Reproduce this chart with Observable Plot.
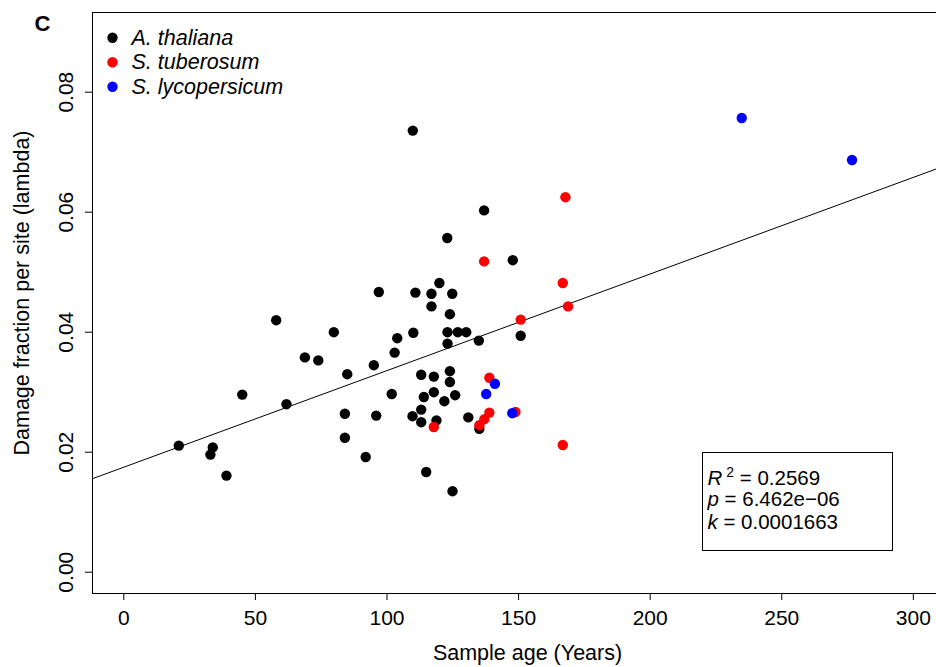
<!DOCTYPE html>
<html><head><meta charset="utf-8">
<script src="https://cdn.jsdelivr.net/npm/d3@7"></script>
<script src="https://cdn.jsdelivr.net/npm/@observablehq/plot@0.6"></script>
<style>body{margin:0;background:#fff;}</style>
</head><body><div id="chart"></div>
<script>
// [sample age (years), damage fraction per site (lambda)]
const thaliana = [
  [20.9,0.0211],[33.8,0.0208],[32.9,0.0196],[39.0,0.0161],[45.0,0.0296],[57.9,0.0420],
  [61.8,0.0280],[68.8,0.0358],[73.9,0.0353],[79.8,0.0400],[84.9,0.0330],[84.0,0.0264],
  [84.0,0.0224],[91.9,0.0192],[96.9,0.0467],[95.0,0.0345],[95.9,0.0261],[101.8,0.0297],
  [102.9,0.0366],[103.9,0.0390],[109.8,0.0736],[110.0,0.0399],[110.8,0.0466],[109.7,0.0260],
  [113.0,0.0329],[113.0,0.0271],[113.0,0.0250],[114.0,0.0292],[114.9,0.0167],[116.9,0.0464],
  [116.9,0.0443],[117.8,0.0326],[117.8,0.0300],[118.8,0.0253],[119.9,0.0482],[121.8,0.0285],
  [122.9,0.0557],[123.0,0.0400],[123.0,0.0381],[123.9,0.0430],[123.9,0.0335],[123.9,0.0317],
  [124.8,0.0464],[124.9,0.0135],[125.9,0.0295],[126.9,0.0400],[130.1,0.0400],[130.9,0.0258],
  [134.9,0.0386],[135.1,0.0239],[136.9,0.0603],[147.8,0.0520],[150.8,0.0394]
];
const tuberosum = [
  [117.8,0.0242],[135.1,0.0245],[137.0,0.0255],[138.9,0.0266],[138.9,0.0324],[136.9,0.0518],
  [150.8,0.0421],[166.8,0.0482],[167.8,0.0625],[168.8,0.0443],[166.8,0.0212],[148.8,0.0267]
];
const lycopersicum = [
  [137.7,0.0297],[141.0,0.0314],[147.6,0.0265],[234.8,0.0757],[276.7,0.0687]
];
const speciesNames = ["A. thaliana", "S. tuberosum", "S. lycopersicum"];
const speciesColors = ["#000000", "#ff0000", "#0000ff"];
const xTicks = [0, 50, 100, 150, 200, 250, 300];
const yTicks = [0.00, 0.02, 0.04, 0.06, 0.08];
const xDomain = [-11.9, 308.8];
const yDomain = [-0.00355, 0.09328];
const fitIntercept = 0.0175;
const fitSlope = 0.000161;
const statsLines = [
  {sym: "R", sup: "2", rest: " = 0.2569"},
  {sym: "p", sup: "", rest: " = 6.462e\u221206"},
  {sym: "k", sup: "", rest: " = 0.0001663"}
];
const xLabel = "Sample age (Years)";
const yLabel = "Damage fraction per site (lambda)";
const panelLetter = "C";

const points = [
  ...thaliana.map(([age, lambda]) => ({age, lambda, species: speciesNames[0]})),
  ...tuberosum.map(([age, lambda]) => ({age, lambda, species: speciesNames[1]})),
  ...lycopersicum.map(([age, lambda]) => ({age, lambda, species: speciesNames[2]}))
];
const fitLine = xDomain.map(age => ({age, lambda: fitIntercept + fitSlope * age}));
const plain = l => l.sym + l.sup + l.rest;

const legendMarks = speciesNames.flatMap((s, i) => [
  Plot.dot([s], {frameAnchor: "top-left", dx: 20, dy: 25.3 + 24.5 * i, r: 5.2, fill: speciesColors[i]}),
  Plot.text([s], {frameAnchor: "top-left", dx: 39, dy: 25.3 + 24.5 * i, text: d => d, textAnchor: "start", lineAnchor: "middle", fontStyle: "italic", fontSize: 21.5})
]);
const statsMarks = statsLines.map((l, i) => Plot.text([l], {
  frameAnchor: "top-left", dx: 615, dy: [465.6, 487, 510][i], text: plain,
  textAnchor: "start", lineAnchor: "middle", fontSize: 20.5
}));

const chart = Plot.plot({
  width: 936, height: 667,
  marginLeft: 92, marginRight: 0, marginTop: 12, marginBottom: 74,
  style: {fontFamily: "'Liberation Sans', Arial, sans-serif", fontSize: "21px", background: "#fff", color: "#000"},
  x: {domain: xDomain},
  y: {domain: yDomain},
  color: {domain: speciesNames, range: speciesColors},
  marks: [
    Plot.ruleX([xDomain[0]], {stroke: "#000"}),
    Plot.ruleY(yDomain, {stroke: "#000"}),
    Plot.axisX({ticks: xTicks, tickSize: 7, tickPadding: 10, fontSize: 21, label: null, tickFormat: d => String(d)}),
    Plot.axisY({ticks: yTicks, tickSize: 7, tickFormat: () => "", label: null}),
    Plot.text(yTicks, {y: d => d, text: d => d.toFixed(2), frameAnchor: "left", dx: -26, rotate: -90, textAnchor: "middle", lineAnchor: "middle", fontSize: 21}),
    Plot.text([xLabel], {frameAnchor: "bottom", dx: 13, dy: 60, text: d => d, textAnchor: "middle", lineAnchor: "middle", fontSize: 21.5}),
    Plot.text([yLabel], {frameAnchor: "left", dx: -70, dy: -10, rotate: -90, text: d => d, textAnchor: "middle", lineAnchor: "middle", fontSize: 21.5}),
    Plot.text([panelLetter], {frameAnchor: "top-left", dx: -50, dy: 11.7, text: d => d, textAnchor: "middle", lineAnchor: "middle", fontSize: 22, fontWeight: "bold"}),
    Plot.line(fitLine, {x: "age", y: "lambda", stroke: "#000", strokeWidth: 1, clip: true}),
    Plot.dot(points, {x: "age", y: "lambda", fill: "species", r: 5.2}),
    ...legendMarks,
    Plot.frame({insetLeft: 610, insetRight: 44, insetTop: 440, insetBottom: 43, stroke: "#000"}),
    ...statsMarks
  ]
});
document.getElementById("chart").appendChild(chart);

// italic symbols and superscript in the stats box
d3.select(chart).selectAll("text").each(function() {
  const l = statsLines.find(s => plain(s) === this.textContent);
  if (!l) return;
  const t = d3.select(this);
  t.text(null);
  t.append("tspan").attr("font-style", "italic").text(l.sym);
  if (l.sup) {
    t.append("tspan").attr("font-size", 14).attr("dx", 4).attr("dy", -8).text(l.sup);
    t.append("tspan").attr("dy", 8).text(l.rest);
  } else {
    t.append("tspan").text(l.rest);
  }
});
</script>
</body></html>
